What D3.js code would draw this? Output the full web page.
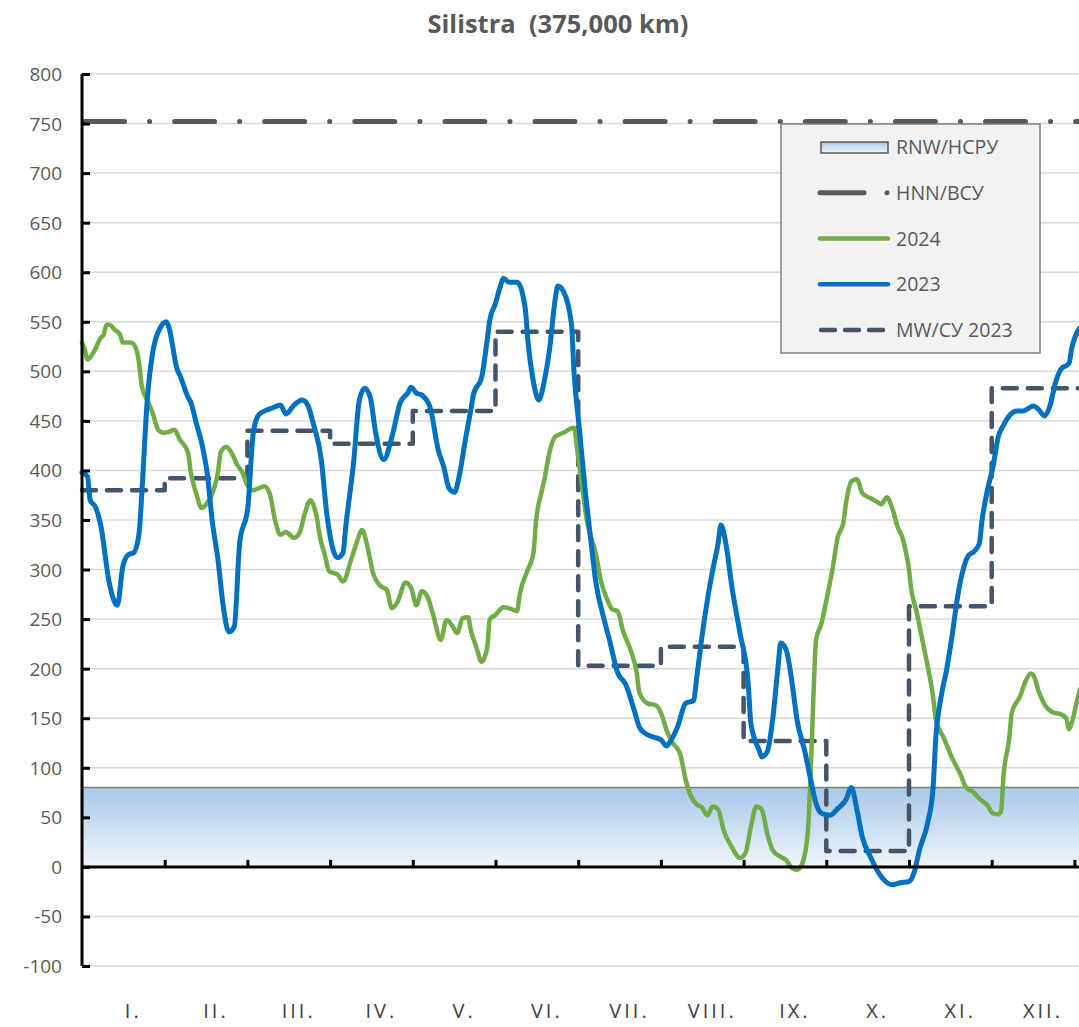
<!DOCTYPE html>
<html>
<head>
<meta charset="utf-8">
<script src="https://cdn.jsdelivr.net/npm/d3@7"></script>
<style>
  html, body { margin: 0; padding: 0; background: #ffffff; }
  svg { display: block; font-family: "Open Sans", "Noto Sans", sans-serif; }
</style>
</head>
<body>
<svg id="chart" width="1079" height="1027"></svg>
<script>
// ---------------- DATA ----------------
const titleText = "Silistra  (375,000 km)";
const monthLabels = ["I.", "II.", "III.", "IV.", "V.", "VI.", "VII.", "VIII.", "IX.", "X.", "XI.", "XII."];
const yTickValues = [-100, -50, 0, 50, 100, 150, 200, 250, 300, 350, 400, 450, 500, 550, 600, 650, 700, 750, 800];

const rnwLevel = 80;    // RNW/НСРУ
const hnnLevel = 752;   // HNN/ВСУ

// MW/СУ 2023 monthly values (Jan..Dec)
const mwMonthly = [380, 392, 440, 427, 460, 540, 203, 222, 127, 16, 263, 483];

// 2023 (blue) — day of year / discharge
const days2023 = [0,2,3,5,7,10,13,15,17,19,21,22,24,26,29,31,32,35,36,39,40,42,44,46,48,50,52,54,56,58,61,63,65,68,70,73,75,78,81,83,85,88,90,94,96,97,100,102,104,106,108,111,114,117,120,121,123,125,128,131,133,135,137,139,141,143,144,147,149,150,152,154,155,157,160,163,164,166,168,170,172,174,175,177,180,181,183,185,187,189,192,194,197,200,203,205,207,209,213,215,216,219,222,225,226,228,230,232,234,235,237,239,242,245,246,249,250,252,254,256,257,259,261,263,266,268,270,272,275,278,281,283,285,287,290,293,298,301,304,306,308,311,313,314,316,318,320,322,324,326,328,330,331,333,335,337,339,341,344,346,350,352,354,356,358,360,363,364,367];
const flow2023 = [398,394,370,363,343,287,264,303,315,317,337,377,471,519,545,550,544,502,496,474,469,448,428,398,347,310,262,237,242,327,363,438,456,461,463,466,457,466,471,466,448,411,357,312,317,343,411,471,483,474,438,411,434,468,479,484,478,476,464,421,404,382,378,398,431,461,477,494,531,552,568,587,594,590,590,564,531,490,471,490,523,572,586,581,548,498,440,382,333,287,250,229,196,184,159,141,135,132,128,122,125,141,165,168,189,232,269,300,327,345,323,283,236,186,145,118,111,116,148,202,226,219,189,148,115,88,64,54,52,59,68,80,58,30,10,-6,-18,-16,-15,-6,17,44,79,129,172,199,233,272,299,314,318,326,349,380,403,434,446,455,460,460,465,461,455,465,488,502,508,523,544];

// 2024 (green) — day of year / discharge
const days2024 = [0,1,2,4,7,8,9,10,12,14,15,18,20,21,22,24,26,28,30,32,34,36,39,40,42,44,46,48,50,51,53,55,57,59,61,63,65,67,69,71,73,75,78,80,82,84,86,88,89,91,94,96,99,101,103,105,107,110,112,114,116,119,121,123,125,127,129,132,134,136,138,140,142,143,145,147,149,150,152,155,158,160,161,164,166,167,169,170,172,174,177,181,182,184,186,189,191,193,195,197,199,202,204,205,208,211,213,215,217,220,222,224,226,228,230,232,234,236,239,242,244,246,248,250,252,254,257,259,261,263,265,267,268,269,270,272,274,276,278,280,281,283,285,287,290,292,294,296,298,300,302,303,304,305,307,309,311,313,314,317,320,323,325,328,330,333,335,337,338,339,341,342,345,347,349,350,352,354,357,360,362,363,364,366,367];
const flow2024 = [529,522,512,518,534,537,547,547,542,537,529,529,522,508,485,471,458,441,438,439,441,431,418,398,377,362,367,377,398,418,424,418,406,398,384,380,382,384,377,350,335,338,332,337,357,370,357,327,318,298,295,288,310,327,340,323,297,283,280,261,267,287,282,264,278,273,256,229,249,244,236,251,252,239,222,207,221,250,254,262,260,258,275,300,316,349,378,390,419,434,438,443,424,382,345,316,287,271,260,258,238,217,196,176,165,163,155,138,126,114,88,71,63,60,52,61,58,37,20,9,14,40,61,58,34,17,10,7,-1,-3,4,37,95,171,229,246,272,300,333,347,367,389,391,377,372,369,366,373,362,343,330,318,303,280,257,230,203,172,149,130,110,94,81,75,69,62,54,53,56,94,129,156,172,187,195,193,176,164,156,154,150,139,145,168,179];

// ---------------- LAYOUT ----------------
const W = 1079, H = 1027;
const plot = { left: 82, right: 1074.4, top: 74, bottom: 966 };
const daysInYear = 365;

const svg = d3.select("#chart");

const x = d3.scaleLinear().domain([0, daysInYear]).range([plot.left, plot.right]);
const y = d3.scaleLinear().domain([-100, 800]).range([plot.bottom, plot.top]);

const monthLen = daysInYear / 12;
const monthBoundaries = d3.range(1, 13).map(k => k * monthLen);

const textGray = "#595959";

// Title
svg.append("text")
  .attr("x", 558).attr("y", 33)
  .attr("text-anchor", "middle")
  .attr("font-size", 25.5).attr("font-weight", 700)
  .attr("fill", textGray)
  .attr("xml:space", "preserve")
  .style("white-space", "pre")
  .text(titleText);

// Gridlines
svg.append("g").selectAll("line").data(yTickValues).join("line")
  .attr("x1", plot.left).attr("x2", W)
  .attr("y1", d => y(d)).attr("y2", d => y(d))
  .attr("stroke", "#d9d9d9").attr("stroke-width", 1.5);

// Gradient for RNW band
const defs = svg.append("defs");
const grad = defs.append("linearGradient").attr("id", "rnwGrad")
  .attr("x1", 0).attr("y1", 0).attr("x2", 0).attr("y2", 1);
grad.append("stop").attr("offset", "0%").attr("stop-color", "#a9c8e8");
grad.append("stop").attr("offset", "55%").attr("stop-color", "#cfe0f3");
grad.append("stop").attr("offset", "100%").attr("stop-color", "#f1f6fc");

// RNW band
svg.append("rect")
  .attr("x", plot.left).attr("y", y(rnwLevel))
  .attr("width", W - plot.left).attr("height", y(0) - y(rnwLevel))
  .attr("fill", "url(#rnwGrad)");
svg.append("line")
  .attr("x1", plot.left).attr("x2", W)
  .attr("y1", y(rnwLevel)).attr("y2", y(rnwLevel))
  .attr("stroke", "#7f7f7f").attr("stroke-width", 1.5);

// HNN line (dash-dot)
svg.append("line")
  .attr("x1", plot.left + 2.5).attr("x2", W + 10)
  .attr("y1", y(hnnLevel)).attr("y2", y(hnnLevel))
  .attr("stroke", "#595959").attr("stroke-width", 5)
  .attr("stroke-linecap", "round")
  .attr("stroke-dasharray", "40,25,0.1,25");

// MW step line
const mwPoints = mwMonthly.map((v, i) => [i * monthLen, v]);
mwPoints.push([367, mwMonthly[mwMonthly.length - 1]]);
const stepLine = d3.line().x(d => x(d[0])).y(d => y(d[1])).curve(d3.curveStepAfter);
svg.append("path")
  .attr("d", stepLine(mwPoints))
  .attr("fill", "none")
  .attr("stroke", "#44546a").attr("stroke-width", 4.5)
  .attr("stroke-linecap", "round").attr("stroke-linejoin", "round")
  .attr("stroke-dasharray", "14,11");

const smooth = d3.line().x(d => x(d[0])).y(d => y(d[1])).curve(d3.curveMonotoneX);

// 2024 green
svg.append("path")
  .attr("d", smooth(days2024.map((d, i) => [d, flow2024[i]])))
  .attr("fill", "none").attr("stroke", "#70ad47").attr("stroke-width", 4.5)
  .attr("stroke-linejoin", "round").attr("stroke-linecap", "round");

// 2023 blue
svg.append("path")
  .attr("d", smooth(days2023.map((d, i) => [d, flow2023[i]])))
  .attr("fill", "none").attr("stroke", "#0070c0").attr("stroke-width", 5)
  .attr("stroke-linejoin", "round").attr("stroke-linecap", "round");

// Y axis
const yAxis = d3.axisRight(y).tickValues(yTickValues).tickSize(8).tickFormat("");
const yg = svg.append("g").attr("transform", `translate(${plot.left},0)`).call(yAxis);
yg.select(".domain").attr("stroke", "#000").attr("stroke-width", 3)
  .attr("d", `M0,${plot.top}V${plot.bottom}`);
yg.selectAll(".tick line").attr("stroke", "#000").attr("stroke-width", 3);

// Y labels
svg.append("g").selectAll("text").data(yTickValues).join("text")
  .attr("x", 62).attr("y", d => y(d) + 7)
  .attr("text-anchor", "end")
  .attr("font-size", 19).attr("fill", textGray)
  .text(d => d);

// X axis at zero
const xAxis = d3.axisTop(x).tickValues(monthBoundaries).tickSize(7).tickFormat("");
const xg = svg.append("g").attr("transform", `translate(0,${y(0)})`).call(xAxis);
xg.select(".domain").attr("stroke", "#000").attr("stroke-width", 3)
  .attr("d", `M${plot.left},0H${W}`);
xg.selectAll(".tick line").attr("stroke", "#000").attr("stroke-width", 3);

// Month labels
svg.append("g").selectAll("text").data(monthLabels).join("text")
  .attr("x", (d, i) => x((i + 0.62) * monthLen))
  .attr("y", 1018)
  .attr("text-anchor", "middle")
  .attr("font-size", 20).attr("fill", "#404040")
  .attr("letter-spacing", 3)
  .text(d => d);

// Legend
const lg = svg.append("g");
lg.append("rect")
  .attr("x", 781).attr("y", 124).attr("width", 259).attr("height", 229)
  .attr("fill", "#f2f2f2").attr("stroke", "#7f7f7f").attr("stroke-width", 1.5);

const legendItems = [
  { label: "RNW/НСРУ", type: "band" },
  { label: "HNN/ВСУ", type: "hnn" },
  { label: "2024", type: "line", color: "#70ad47" },
  { label: "2023", type: "line", color: "#0070c0" },
  { label: "MW/СУ 2023", type: "mw" }
];
const legendRowY = d3.scaleLinear().domain([0, 4]).range([147, 330]);
legendItems.forEach((it, i) => {
  const cy = legendRowY(i);
  if (it.type === "band") {
    lg.append("rect").attr("x", 821).attr("y", cy - 5).attr("width", 67).attr("height", 11)
      .attr("fill", "url(#rnwGrad)").attr("stroke", "#595959").attr("stroke-width", 1.5);
  } else if (it.type === "hnn") {
    lg.append("line").attr("x1", 820).attr("x2", 864).attr("y1", cy).attr("y2", cy)
      .attr("stroke", "#595959").attr("stroke-width", 5).attr("stroke-linecap", "round");
    lg.append("circle").attr("cx", 887).attr("cy", cy).attr("r", 2.5).attr("fill", "#595959");
  } else if (it.type === "line") {
    lg.append("line").attr("x1", 820).attr("x2", 888).attr("y1", cy).attr("y2", cy)
      .attr("stroke", it.color).attr("stroke-width", 4.5).attr("stroke-linecap", "round");
  } else {
    lg.append("line").attr("x1", 821).attr("x2", 884).attr("y1", cy).attr("y2", cy)
      .attr("stroke", "#44546a").attr("stroke-width", 4.5).attr("stroke-linecap", "round")
      .attr("stroke-dasharray", "14,10");
  }
  lg.append("text").attr("x", 896).attr("y", cy + 7)
    .attr("font-size", 19.5).attr("fill", textGray).text(it.label);
});
</script>
</body>
</html>
